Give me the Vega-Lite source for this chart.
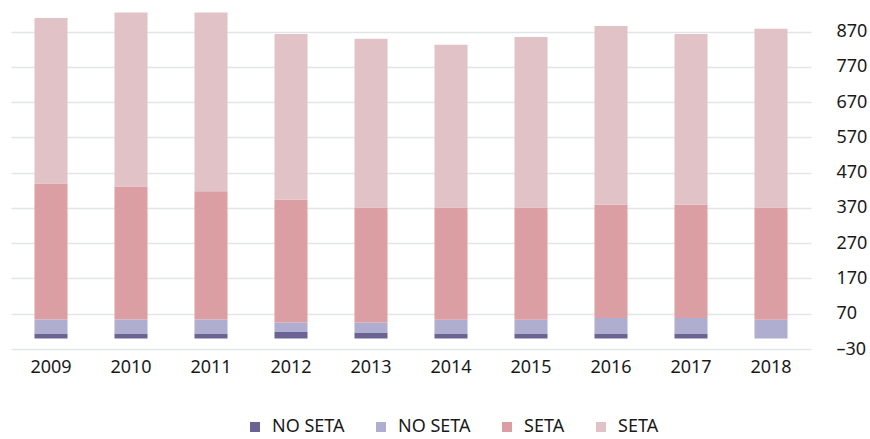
{
  "$schema": "https://vega.github.io/schema/vega-lite/v6.json",
  "width": 800,
  "height": 335,
  "padding": {"left": 11, "top": 12, "right": 0, "bottom": 0},
  "background": "white",
  "config": {
    "view": {"stroke": null},
    "font": "Noto Sans"
  },
  "data": {
    "values": [
      {"year": "2009", "serie": "NO SETA_1", "orden": 1, "valor": 14},
      {"year": "2009", "serie": "NO SETA_2", "orden": 2, "valor": 40},
      {"year": "2009", "serie": "SETA_1", "orden": 3, "valor": 385},
      {"year": "2009", "serie": "SETA_2", "orden": 4, "valor": 470},
      {"year": "2010", "serie": "NO SETA_1", "orden": 1, "valor": 14},
      {"year": "2010", "serie": "NO SETA_2", "orden": 2, "valor": 40},
      {"year": "2010", "serie": "SETA_1", "orden": 3, "valor": 377},
      {"year": "2010", "serie": "SETA_2", "orden": 4, "valor": 493},
      {"year": "2011", "serie": "NO SETA_1", "orden": 1, "valor": 14},
      {"year": "2011", "serie": "NO SETA_2", "orden": 2, "valor": 40},
      {"year": "2011", "serie": "SETA_1", "orden": 3, "valor": 363},
      {"year": "2011", "serie": "SETA_2", "orden": 4, "valor": 507},
      {"year": "2012", "serie": "NO SETA_1", "orden": 1, "valor": 18},
      {"year": "2012", "serie": "NO SETA_2", "orden": 2, "valor": 27},
      {"year": "2012", "serie": "SETA_1", "orden": 3, "valor": 348},
      {"year": "2012", "serie": "SETA_2", "orden": 4, "valor": 470},
      {"year": "2013", "serie": "NO SETA_1", "orden": 1, "valor": 17},
      {"year": "2013", "serie": "NO SETA_2", "orden": 2, "valor": 28},
      {"year": "2013", "serie": "SETA_1", "orden": 3, "valor": 326},
      {"year": "2013", "serie": "SETA_2", "orden": 4, "valor": 479},
      {"year": "2014", "serie": "NO SETA_1", "orden": 1, "valor": 14},
      {"year": "2014", "serie": "NO SETA_2", "orden": 2, "valor": 39},
      {"year": "2014", "serie": "SETA_1", "orden": 3, "valor": 318},
      {"year": "2014", "serie": "SETA_2", "orden": 4, "valor": 462},
      {"year": "2015", "serie": "NO SETA_1", "orden": 1, "valor": 14},
      {"year": "2015", "serie": "NO SETA_2", "orden": 2, "valor": 39},
      {"year": "2015", "serie": "SETA_1", "orden": 3, "valor": 318},
      {"year": "2015", "serie": "SETA_2", "orden": 4, "valor": 484},
      {"year": "2016", "serie": "NO SETA_1", "orden": 1, "valor": 14},
      {"year": "2016", "serie": "NO SETA_2", "orden": 2, "valor": 44},
      {"year": "2016", "serie": "SETA_1", "orden": 3, "valor": 321},
      {"year": "2016", "serie": "SETA_2", "orden": 4, "valor": 507},
      {"year": "2017", "serie": "NO SETA_1", "orden": 1, "valor": 14},
      {"year": "2017", "serie": "NO SETA_2", "orden": 2, "valor": 44},
      {"year": "2017", "serie": "SETA_1", "orden": 3, "valor": 321},
      {"year": "2017", "serie": "SETA_2", "orden": 4, "valor": 484},
      {"year": "2018", "serie": "NO SETA_1", "orden": 1, "valor": 0},
      {"year": "2018", "serie": "NO SETA_2", "orden": 2, "valor": 53},
      {"year": "2018", "serie": "SETA_1", "orden": 3, "valor": 318},
      {"year": "2018", "serie": "SETA_2", "orden": 4, "valor": 507}
    ]
  },
  "mark": {"type": "bar"},
  "encoding": {
    "x": {
      "field": "year",
      "type": "ordinal",
      "title": null,
      "scale": {"paddingInner": 0.5875, "paddingOuter": 0.29375},
      "axis": {
        "labelAngle": 0,
        "domain": false,
        "ticks": false,
        "labelPadding": 9,
        "labelFontSize": 18,
        "labelColor": "#1a1a1a",
        "labelFont": "Noto Sans"
      }
    },
    "y": {
      "field": "valor",
      "type": "quantitative",
      "stack": "zero",
      "title": null,
      "scale": {"domain": [-30, 920], "nice": false, "zero": false},
      "axis": {
        "orient": "right",
        "values": [-30, 70, 170, 270, 370, 470, 570, 670, 770, 870],
        "labelExpr": "datum.value < 0 ? '–' + abs(datum.value) : datum.label",
        "domain": false,
        "ticks": false,
        "labelPadding": 25,
        "labelAlign": "left",
        "labelFontSize": 18,
        "labelColor": "#1a1a1a",
        "gridColor": "#e2e5e8",
        "gridWidth": 1.5
      }
    },
    "color": {
      "field": "serie",
      "type": "nominal",
      "scale": {
        "domain": ["NO SETA_1", "NO SETA_2", "SETA_1", "SETA_2"],
        "range": ["#6a6394", "#b0aed0", "#da9ea3", "#e0c2c7"]
      },
      "legend": {
        "orient": "none",
        "legendX": 235,
        "legendY": 404,
        "direction": "horizontal",
        "title": null,
        "symbolType": "square",
        "symbolSize": 100,
        "symbolStrokeWidth": 0,
        "labelFontSize": 18,
        "labelColor": "#1a1a1a",
        "labelExpr": "slice(datum.label, 0, -2)",
        "columnPadding": 27,
        "symbolOffset": 0,
        "labelOffset": 8
      }
    },
    "order": {"field": "orden", "type": "quantitative"}
  }
}
